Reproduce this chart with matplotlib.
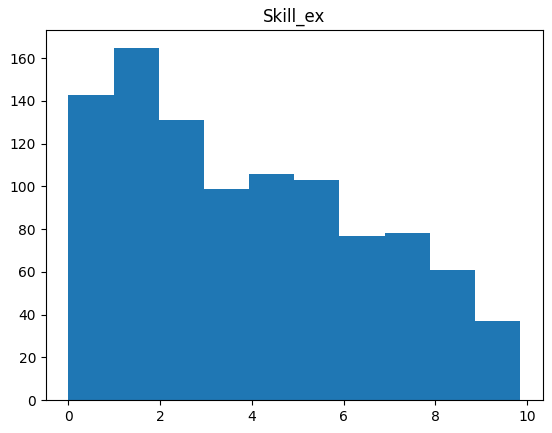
import numpy as np
import matplotlib
matplotlib.use('Agg')
import matplotlib.pyplot as plt

# histogram counts
counts = [143, 165, 131, 99, 106, 103, 77, 78, 61, 37]
x_min = 0.0
x_max = 9.85

edges = np.linspace(x_min, x_max, len(counts) + 1)

fig, ax = plt.subplots(figsize=(5.52, 4.33), dpi=100)
ax.hist(edges[:-1], bins=edges, weights=counts)
ax.set_title('Skill_ex')

plt.subplots_adjust(left=0.083, right=0.983, top=0.931, bottom=0.076)
plt.savefig('out.png', dpi=100)
